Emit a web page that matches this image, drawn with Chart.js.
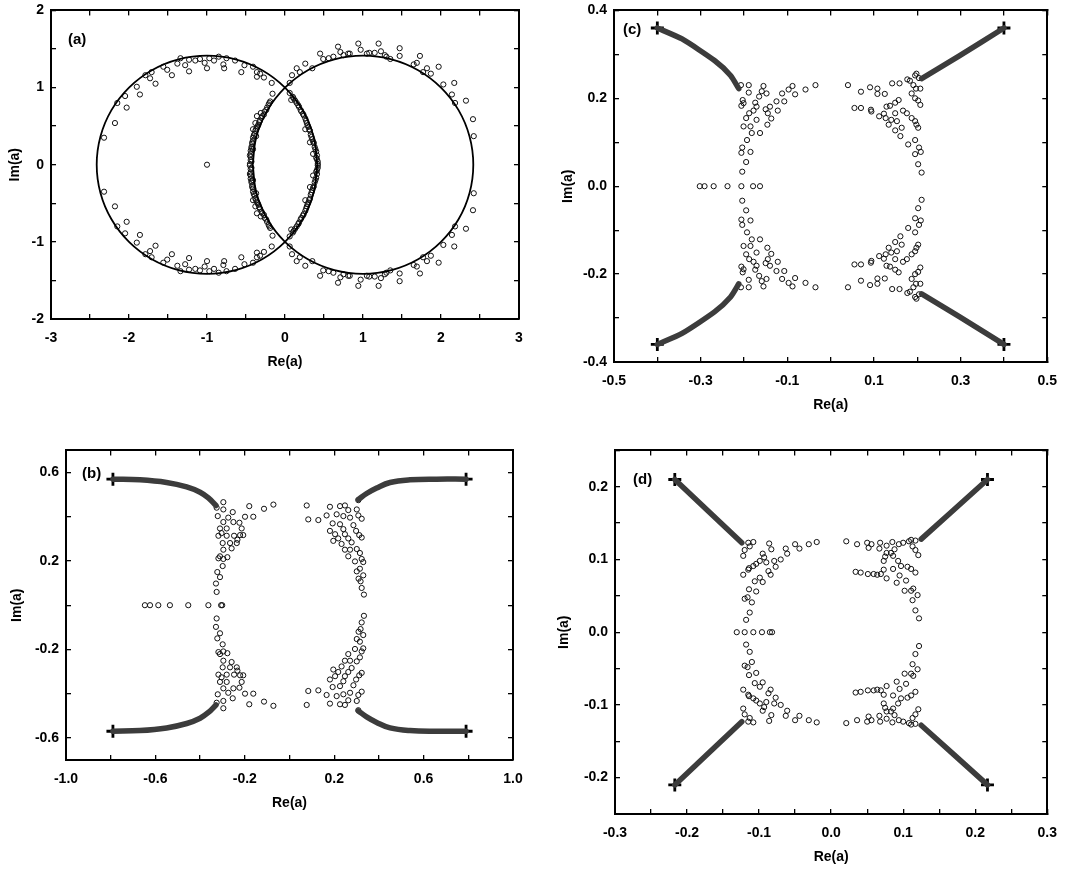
<!DOCTYPE html>
<html>
<head>
<meta charset="utf-8">
<script src="https://cdn.jsdelivr.net/npm/chart.js@4.4.1/dist/chart.umd.min.js"></script>
<style>
body{margin:0;background:#fff;width:1073px;height:873px;overflow:hidden;position:relative}
canvas{position:absolute}
</style>
</head>
<body>
<canvas id="pa" width="540" height="385" style="left:0;top:-10px"></canvas>
<canvas id="pb" width="540" height="386" style="left:0;top:430px"></canvas>
<canvas id="pc" width="533" height="428" style="left:540px;top:-10px"></canvas>
<canvas id="pd" width="533" height="440" style="left:540px;top:430px"></canvas>
<script>
// ---- panel (a): two circles and roots around them
const aCircleLeft = [[0.414,0],[0.366,0.366],[0.225,0.707],[0,1],[-0.293,1.225],[-0.634,1.366],[-1,1.414],[-1.366,1.366],[-1.707,1.225],[-2,1],[-2.225,0.707],[-2.366,0.366],[-2.414,0],[-2.366,-0.366],[-2.225,-0.707],[-2,-1],[-1.707,-1.225],[-1.366,-1.366],[-1,-1.414],[-0.634,-1.366],[-0.293,-1.225],[0,-1],[0.225,-0.707],[0.366,-0.366],[0.414,0]];
const aCircleRight = [[-0.414,0],[-0.366,0.366],[-0.225,0.707],[0,1],[0.293,1.225],[0.634,1.366],[1,1.414],[1.366,1.366],[1.707,1.225],[2,1],[2.225,0.707],[2.366,0.366],[2.414,0],[2.366,-0.366],[2.225,-0.707],[2,-1],[1.707,-1.225],[1.366,-1.366],[1,-1.414],[0.634,-1.366],[0.293,-1.225],[0,-1],[-0.225,-0.707],[-0.366,-0.366],[-0.414,0]];
const aRootsUpper = [[-1.34,1.38],[-1.23,1.36],[-1.15,1.35],[-1.09,1.37],[-0.97,1.38],[-0.91,1.35],[-0.85,1.40],[-0.75,1.38],[-0.64,1.35],
  [-1.38,1.31],[-1.28,1.29],[-1.03,1.32],[-0.79,1.30],[-0.52,1.29],[-1.56,1.27],[-1.51,1.23],[-1.71,1.20],[-1.79,1.16],
  [-1.73,1.12],[-1.45,1.16],[-1.23,1.21],[-1.00,1.25],[-0.78,1.25],[-0.56,1.20],[-0.41,1.27],[-0.36,1.20],[-0.32,1.18],
  [-0.36,1.14],[-0.27,1.13],[-0.17,1.06],[-1.66,1.05],[-1.90,1.01],[-2.05,0.89],[-1.86,0.91],[-2.15,0.80],[-2.03,0.74],
  [-2.18,0.54],[-2.32,0.35],[-0.16,0.92],[-0.19,0.82],
  [-0.21,0.78],[-0.24,0.71],[-0.27,0.65],[-0.30,0.61],[-0.32,0.57],[-0.34,0.52],[-0.36,0.48],[-0.38,0.44],[-0.39,0.40],
  [-0.41,0.35],[-0.41,0.31],[-0.42,0.27],[-0.43,0.23],[-0.44,0.18],[-0.44,0.14],[-0.44,0.10],[-0.44,0.06],[-0.45,0.01],
  [-0.38,0.54],[-0.36,0.63],[-0.31,0.67],[-0.41,0.46],[-0.37,0.37],[-0.41,0.20],
  [-0.20,0.80],[-0.23,0.74],[-0.26,0.69],[-0.29,0.63],[-0.33,0.55],[-0.35,0.50],[-0.37,0.46],[-0.40,0.38],[-0.42,0.29],
  [-0.43,0.21],[-0.45,0.12],[-0.43,0.04],
  [0.06,0.93],[0.11,0.86],[0.15,0.80],[0.18,0.75],[0.21,0.69],[0.24,0.64],[0.26,0.60],[0.28,0.54],[0.30,0.49],
  [0.32,0.44],[0.33,0.39],[0.35,0.33],[0.37,0.28],[0.38,0.23],[0.40,0.17],[0.41,0.12],[0.41,0.07],[0.42,0.01],
  [0.08,0.84],[0.26,0.46],[0.32,0.29],[0.36,0.14],
  [0.10,0.88],[0.13,0.83],[0.17,0.77],[0.20,0.71],[0.23,0.66],[0.27,0.57],[0.29,0.51],[0.31,0.46],[0.34,0.36],
  [0.36,0.30],[0.39,0.20],[0.40,0.09],[0.42,0.04],
  [0.09,1.16],[0.19,1.20],[0.26,1.31],[0.35,1.25],[0.45,1.44],[0.56,1.38],[0.68,1.53],[0.71,1.46],[0.83,1.44],
  [0.94,1.57],[0.97,1.49],[1.08,1.45],[1.20,1.57],[1.23,1.47],[1.28,1.42],[1.35,1.37],[1.47,1.51],[1.47,1.41],
  [1.65,1.30],[1.69,1.32],[1.73,1.41],[1.77,1.20],[1.87,1.18],[1.97,1.27],[2.03,1.04],[2.17,1.06],[2.14,0.91],
  [2.18,0.80],[2.32,0.83],[2.41,0.59],[2.42,0.37],[0.06,1.06],[0.15,1.25],[0.49,1.37],[0.62,1.40],[0.75,1.42],
  [0.81,1.44],[1.05,1.44],[1.15,1.45],[1.30,1.40],[1.82,1.25],[-1,0]];
const aRootsLower = [[-1.34,-1.38],[-1.23,-1.36],[-1.15,-1.35],[-1.09,-1.37],[-0.97,-1.38],[-0.91,-1.35],[-0.85,-1.40],[-0.75,-1.38],[-0.64,-1.35],
  [-1.38,-1.31],[-1.28,-1.29],[-1.03,-1.32],[-0.79,-1.30],[-0.52,-1.29],[-1.56,-1.27],[-1.51,-1.23],[-1.71,-1.20],[-1.79,-1.16],
  [-1.73,-1.12],[-1.45,-1.16],[-1.23,-1.21],[-1.00,-1.25],[-0.78,-1.25],[-0.56,-1.20],[-0.41,-1.27],[-0.36,-1.20],[-0.32,-1.18],
  [-0.36,-1.14],[-0.27,-1.13],[-0.17,-1.06],[-1.66,-1.05],[-1.90,-1.01],[-2.05,-0.89],[-1.86,-0.91],[-2.15,-0.80],[-2.03,-0.74],
  [-2.18,-0.54],[-2.32,-0.35],[-0.16,-0.92],[-0.19,-0.82],
  [-0.21,-0.78],[-0.24,-0.71],[-0.27,-0.65],[-0.30,-0.61],[-0.32,-0.57],[-0.34,-0.52],[-0.36,-0.48],[-0.38,-0.44],[-0.39,-0.40],
  [-0.41,-0.35],[-0.41,-0.31],[-0.42,-0.27],[-0.43,-0.23],[-0.44,-0.18],[-0.44,-0.14],[-0.44,-0.10],[-0.44,-0.06],[-0.45,-0.01],
  [-0.38,-0.54],[-0.36,-0.63],[-0.31,-0.67],[-0.41,-0.46],[-0.37,-0.37],[-0.41,-0.20],
  [-0.20,-0.80],[-0.23,-0.74],[-0.26,-0.69],[-0.29,-0.63],[-0.33,-0.55],[-0.35,-0.50],[-0.37,-0.46],[-0.40,-0.38],[-0.42,-0.29],
  [-0.43,-0.21],[-0.45,-0.12],[-0.43,-0.04],
  [0.06,-0.93],[0.11,-0.86],[0.15,-0.80],[0.18,-0.75],[0.21,-0.69],[0.24,-0.64],[0.26,-0.60],[0.28,-0.54],[0.30,-0.49],
  [0.32,-0.44],[0.33,-0.39],[0.35,-0.33],[0.37,-0.28],[0.38,-0.23],[0.40,-0.17],[0.41,-0.12],[0.41,-0.07],[0.42,-0.01],
  [0.08,-0.84],[0.26,-0.46],[0.32,-0.29],[0.36,-0.14],
  [0.10,-0.88],[0.13,-0.83],[0.17,-0.77],[0.20,-0.71],[0.23,-0.66],[0.27,-0.57],[0.29,-0.51],[0.31,-0.46],[0.34,-0.36],
  [0.36,-0.30],[0.39,-0.20],[0.40,-0.09],[0.42,-0.04],
  [0.09,-1.16],[0.19,-1.20],[0.26,-1.31],[0.35,-1.25],[0.45,-1.44],[0.56,-1.38],[0.68,-1.53],[0.71,-1.46],[0.83,-1.44],
  [0.94,-1.57],[0.97,-1.49],[1.08,-1.45],[1.20,-1.57],[1.23,-1.47],[1.28,-1.42],[1.35,-1.37],[1.47,-1.51],[1.47,-1.41],
  [1.65,-1.30],[1.69,-1.32],[1.73,-1.41],[1.77,-1.20],[1.87,-1.18],[1.97,-1.27],[2.03,-1.04],[2.17,-1.06],[2.14,-0.91],
  [2.18,-0.80],[2.32,-0.83],[2.41,-0.59],[2.42,-0.37],[0.06,-1.06],[0.15,-1.25],[0.49,-1.37],[0.62,-1.40],[0.75,-1.42],
  [0.81,-1.44],[1.05,-1.44],[1.15,-1.45],[1.30,-1.40],[1.82,-1.25]];
const aXTicks = [-3,-2.5,-2,-1.5,-1,-0.5,0,0.5,1,1.5,2,2.5,3];
const aXLabels = [-3,-2,-1,0,1,2,3];
const aYTicks = [-2,-1.5,-1,-0.5,0,0.5,1,1.5,2];
const aYLabels = [-2,-1,0,1,2];

// ---- panel (b)
const bTrails = [
  [[-0.79,0.57],[-0.669,0.567],[-0.55,0.555],[-0.46,0.535],[-0.40,0.511],[-0.363,0.485],[-0.329,0.451]],
  [[0.79,0.57],[0.658,0.57],[0.539,0.567],[0.45,0.555],[0.39,0.53],[0.345,0.505],[0.308,0.478]],
  [[-0.79,-0.57],[-0.669,-0.567],[-0.55,-0.555],[-0.46,-0.535],[-0.40,-0.511],[-0.363,-0.485],[-0.329,-0.451]],
  [[0.79,-0.57],[0.658,-0.57],[0.539,-0.567],[0.45,-0.555],[0.39,-0.53],[0.345,-0.505],[0.308,-0.478]]
];
const bCrosses = [[-0.79,0.57],[0.79,0.57],[-0.79,-0.57],[0.79,-0.57]];
const bRootsUpper = [[-0.296,0.466],[-0.326,0.441],[-0.296,0.433],[-0.254,0.421],[-0.321,0.403],[-0.296,0.376],[-0.274,0.396],
  [-0.251,0.376],[-0.224,0.373],[-0.199,0.400],[-0.180,0.448],[-0.162,0.400],[-0.114,0.436],[-0.072,0.455],[-0.311,0.347],
  [-0.304,0.326],[-0.281,0.347],[-0.318,0.314],[-0.281,0.314],[-0.248,0.314],[-0.214,0.347],[-0.207,0.317],[-0.233,0.296],
  [-0.299,0.281],[-0.266,0.281],[-0.236,0.281],[-0.296,0.251],[-0.259,0.257],[-0.311,0.221],[-0.296,0.209],[-0.278,0.217],
  [-0.318,0.212],[-0.299,0.177],[-0.323,0.150],[-0.311,0.127],[-0.329,0.098],[-0.326,0.060],[-0.221,0.317],
  [0.077,0.451],[0.084,0.388],[0.129,0.385],[0.181,0.445],[0.226,0.448],[0.248,0.451],[0.263,0.430],[0.211,0.411],
  [0.166,0.406],[0.241,0.403],[0.271,0.396],[0.301,0.433],[0.308,0.475],[0.308,0.406],[0.323,0.391],[0.193,0.370],
  [0.226,0.366],[0.241,0.344],[0.286,0.362],[0.181,0.336],[0.204,0.321],[0.218,0.302],[0.248,0.321],[0.263,0.302],
  [0.298,0.336],[0.312,0.317],[0.323,0.306],[0.196,0.291],[0.233,0.277],[0.248,0.251],[0.278,0.284],[0.271,0.251],
  [0.301,0.254],[0.315,0.236],[0.263,0.221],[0.293,0.198],[0.323,0.209],[0.301,0.153],[0.315,0.165],[0.330,0.135],
  [0.309,0.120],[0.318,0.108],[0.323,0.078],[0.333,0.048],[0.330,0.195]];
const bRootsReal = [[-0.647,0],[-0.624,0],[-0.587,0],[-0.535,0],[-0.453,0],[-0.363,0],[-0.306,0],[-0.301,0]];
const bRootsLower = [[-0.296,-0.466],[-0.326,-0.441],[-0.296,-0.433],[-0.254,-0.421],[-0.321,-0.403],[-0.296,-0.376],[-0.274,-0.396],
  [-0.251,-0.376],[-0.224,-0.373],[-0.199,-0.400],[-0.180,-0.448],[-0.162,-0.400],[-0.114,-0.436],[-0.072,-0.455],[-0.311,-0.347],
  [-0.304,-0.326],[-0.281,-0.347],[-0.318,-0.314],[-0.281,-0.314],[-0.248,-0.314],[-0.214,-0.347],[-0.207,-0.317],[-0.233,-0.296],
  [-0.299,-0.281],[-0.266,-0.281],[-0.236,-0.281],[-0.296,-0.251],[-0.259,-0.257],[-0.311,-0.221],[-0.296,-0.209],[-0.278,-0.217],
  [-0.318,-0.212],[-0.299,-0.177],[-0.323,-0.150],[-0.311,-0.127],[-0.329,-0.098],[-0.326,-0.060],[-0.221,-0.317],
  [0.077,-0.451],[0.084,-0.388],[0.129,-0.385],[0.181,-0.445],[0.226,-0.448],[0.248,-0.451],[0.263,-0.430],[0.211,-0.411],
  [0.166,-0.406],[0.241,-0.403],[0.271,-0.396],[0.301,-0.433],[0.308,-0.475],[0.308,-0.406],[0.323,-0.391],[0.193,-0.370],
  [0.226,-0.366],[0.241,-0.344],[0.286,-0.362],[0.181,-0.336],[0.204,-0.321],[0.218,-0.302],[0.248,-0.321],[0.263,-0.302],
  [0.298,-0.336],[0.312,-0.317],[0.323,-0.306],[0.196,-0.291],[0.233,-0.277],[0.248,-0.251],[0.278,-0.284],[0.271,-0.251],
  [0.301,-0.254],[0.315,-0.236],[0.263,-0.221],[0.293,-0.198],[0.323,-0.209],[0.301,-0.153],[0.315,-0.165],[0.330,-0.135],
  [0.309,-0.120],[0.318,-0.108],[0.323,-0.078],[0.333,-0.048],[0.330,-0.195]];
const bXTicks = [-1,-0.8,-0.6,-0.4,-0.2,0,0.2,0.4,0.6,0.8,1];
const bXLabels = [-1,-0.6,-0.2,0.2,0.6,1];
const bYTicks = [-0.6,-0.4,-0.2,0,0.2,0.4,0.6];
const bYLabels = [-0.6,-0.2,0.2,0.6];

// ---- panel (c)
const cTrails = [
  [[-0.4,0.36],[-0.343,0.335],[-0.268,0.286],[-0.231,0.252],[-0.212,0.222]],
  [[0.4,0.36],[0.296,0.296],[0.21,0.245]],
  [[-0.4,-0.36],[-0.343,-0.335],[-0.268,-0.286],[-0.231,-0.252],[-0.212,-0.222]],
  [[0.4,-0.36],[0.296,-0.296],[0.21,-0.245]]
];
const cCrosses = [[-0.4,0.36],[0.4,0.36],[-0.4,-0.36],[0.4,-0.36]];
const cRootsUpper = [[-0.207,0.230],[-0.189,0.230],[-0.189,0.213],[-0.203,0.196],[-0.201,0.189],[-0.206,0.183],[-0.155,0.228],
  [-0.148,0.211],[-0.159,0.216],[-0.165,0.204],[-0.174,0.190],[-0.171,0.181],[-0.178,0.172],[-0.188,0.166],[-0.195,0.155],
  [-0.201,0.136],[-0.185,0.136],[-0.182,0.121],[-0.193,0.105],[-0.204,0.088],[-0.206,0.076],[-0.185,0.078],[-0.195,0.055],
  [-0.204,0.033],[-0.171,0.151],[-0.163,0.121],[-0.150,0.175],[-0.140,0.181],[-0.145,0.166],[-0.137,0.154],[-0.146,0.140],
  [-0.122,0.172],[-0.125,0.193],[-0.112,0.211],[-0.107,0.193],[-0.097,0.220],[-0.088,0.228],[-0.082,0.209],[-0.058,0.220],
  [-0.035,0.230],
  [0.040,0.230],[0.070,0.215],[0.091,0.225],[0.108,0.222],[0.108,0.210],[0.125,0.210],[0.142,0.234],[0.159,0.234],
  [0.177,0.243],[0.183,0.240],[0.195,0.252],[0.198,0.256],[0.207,0.222],[0.197,0.222],[0.187,0.211],[0.195,0.200],
  [0.202,0.195],[0.207,0.185],[0.055,0.178],[0.070,0.178],[0.093,0.174],[0.094,0.170],[0.112,0.159],[0.127,0.155],
  [0.129,0.181],[0.123,0.165],[0.134,0.140],[0.140,0.151],[0.149,0.190],[0.157,0.196],[0.149,0.166],[0.167,0.172],
  [0.176,0.166],[0.187,0.155],[0.195,0.148],[0.202,0.133],[0.198,0.140],[0.153,0.148],[0.164,0.133],[0.149,0.127],
  [0.161,0.114],[0.179,0.095],[0.195,0.105],[0.195,0.073],[0.204,0.088],[0.208,0.078],[0.202,0.050],[0.210,0.031],
  [0.137,0.183],[0.191,0.230],[0.204,0.246]];
const cRootsReal = [[-0.302,0],[-0.291,0],[-0.270,0],[-0.238,0],[-0.206,0],[-0.179,0],[-0.163,0]];
const cRootsLower = [[-0.207,-0.230],[-0.189,-0.230],[-0.189,-0.213],[-0.203,-0.196],[-0.201,-0.189],[-0.206,-0.183],[-0.155,-0.228],
  [-0.148,-0.211],[-0.159,-0.216],[-0.165,-0.204],[-0.174,-0.190],[-0.171,-0.181],[-0.178,-0.172],[-0.188,-0.166],[-0.195,-0.155],
  [-0.201,-0.136],[-0.185,-0.136],[-0.182,-0.121],[-0.193,-0.105],[-0.204,-0.088],[-0.206,-0.076],[-0.185,-0.078],[-0.195,-0.055],
  [-0.204,-0.033],[-0.171,-0.151],[-0.163,-0.121],[-0.150,-0.175],[-0.140,-0.181],[-0.145,-0.166],[-0.137,-0.154],[-0.146,-0.140],
  [-0.122,-0.172],[-0.125,-0.193],[-0.112,-0.211],[-0.107,-0.193],[-0.097,-0.220],[-0.088,-0.228],[-0.082,-0.209],[-0.058,-0.220],
  [-0.035,-0.230],
  [0.040,-0.230],[0.070,-0.215],[0.091,-0.225],[0.108,-0.222],[0.108,-0.210],[0.125,-0.210],[0.142,-0.234],[0.159,-0.234],
  [0.177,-0.243],[0.183,-0.240],[0.195,-0.252],[0.198,-0.256],[0.207,-0.222],[0.197,-0.222],[0.187,-0.211],[0.195,-0.200],
  [0.202,-0.195],[0.207,-0.185],[0.055,-0.178],[0.070,-0.178],[0.093,-0.174],[0.094,-0.170],[0.112,-0.159],[0.127,-0.155],
  [0.129,-0.181],[0.123,-0.165],[0.134,-0.140],[0.140,-0.151],[0.149,-0.190],[0.157,-0.196],[0.149,-0.166],[0.167,-0.172],
  [0.176,-0.166],[0.187,-0.155],[0.195,-0.148],[0.202,-0.133],[0.198,-0.140],[0.153,-0.148],[0.164,-0.133],[0.149,-0.127],
  [0.161,-0.114],[0.179,-0.095],[0.195,-0.105],[0.195,-0.073],[0.204,-0.088],[0.208,-0.078],[0.202,-0.050],[0.210,-0.031],
  [0.137,-0.183],[0.191,-0.230],[0.204,-0.246]];
const cXTicks = [-0.5,-0.4,-0.3,-0.2,-0.1,0,0.1,0.2,0.3,0.4,0.5];
const cXLabels = [-0.5,-0.3,-0.1,0.1,0.3,0.5];
const cYTicks = [-0.4,-0.3,-0.2,-0.1,0,0.1,0.2,0.3,0.4];
const cYLabels = [-0.4,-0.2,0,0.2,0.4];

// ---- panel (d)
const dTrails = [
  [[-0.217,0.21],[-0.17,0.166],[-0.124,0.123]],
  [[0.217,0.21],[0.17,0.168],[0.125,0.128]],
  [[-0.217,-0.21],[-0.17,-0.166],[-0.124,-0.123]],
  [[0.217,-0.21],[0.17,-0.168],[0.125,-0.128]]
];
const dCrosses = [[-0.217,0.21],[0.217,0.21],[-0.217,-0.21],[0.217,-0.21]];
const dRootsUpper = [[-0.115,0.123],[-0.108,0.124],[-0.113,0.118],[-0.120,0.113],[-0.122,0.105],[-0.114,0.088],[-0.108,0.091],
  [-0.099,0.098],[-0.093,0.103],[-0.086,0.122],[-0.083,0.114],[-0.095,0.108],[-0.122,0.079],[-0.115,0.086],[-0.104,0.094],
  [-0.090,0.096],[-0.079,0.098],[-0.077,0.090],[-0.070,0.100],[-0.061,0.108],[-0.050,0.121],[-0.044,0.115],[-0.031,0.121],
  [-0.020,0.124],[-0.063,0.115],[-0.087,0.084],[-0.099,0.075],[-0.106,0.070],[-0.095,0.069],[-0.084,0.079],[-0.114,0.059],
  [-0.120,0.046],[-0.116,0.048],[-0.104,0.056],[-0.110,0.041],[-0.113,0.027],[-0.118,0.017],
  [0.021,0.125],[0.036,0.121],[0.050,0.123],[0.052,0.116],[0.056,0.121],[0.068,0.123],[0.067,0.115],[0.077,0.119],
  [0.085,0.124],[0.088,0.114],[0.094,0.121],[0.100,0.123],[0.108,0.125],[0.111,0.127],[0.117,0.126],[0.113,0.118],
  [0.117,0.113],[0.121,0.106],[0.077,0.109],[0.075,0.104],[0.073,0.098],[0.083,0.109],[0.086,0.105],[0.093,0.098],
  [0.097,0.091],[0.106,0.090],[0.111,0.087],[0.117,0.082],[0.034,0.083],[0.041,0.082],[0.051,0.080],[0.059,0.080],
  [0.064,0.079],[0.069,0.080],[0.073,0.086],[0.077,0.074],[0.086,0.087],[0.091,0.068],[0.095,0.078],[0.104,0.071],
  [0.111,0.057],[0.114,0.060],[0.113,0.044],[0.120,0.051],[0.117,0.030],[0.122,0.019],[0.102,0.057]];
const dRootsReal = [[-0.131,0],[-0.120,0],[-0.108,0],[-0.096,0],[-0.085,0],[-0.082,0]];
const dRootsLower = [[-0.115,-0.123],[-0.108,-0.124],[-0.113,-0.118],[-0.120,-0.113],[-0.122,-0.105],[-0.114,-0.088],[-0.108,-0.091],
  [-0.099,-0.098],[-0.093,-0.103],[-0.086,-0.122],[-0.083,-0.114],[-0.095,-0.108],[-0.122,-0.079],[-0.115,-0.086],[-0.104,-0.094],
  [-0.090,-0.096],[-0.079,-0.098],[-0.077,-0.090],[-0.070,-0.100],[-0.061,-0.108],[-0.050,-0.121],[-0.044,-0.115],[-0.031,-0.121],
  [-0.020,-0.124],[-0.063,-0.115],[-0.087,-0.084],[-0.099,-0.075],[-0.106,-0.070],[-0.095,-0.069],[-0.084,-0.079],[-0.114,-0.059],
  [-0.120,-0.046],[-0.116,-0.048],[-0.104,-0.056],[-0.110,-0.041],[-0.113,-0.027],[-0.118,-0.017],
  [0.021,-0.125],[0.036,-0.121],[0.050,-0.123],[0.052,-0.116],[0.056,-0.121],[0.068,-0.123],[0.067,-0.115],[0.077,-0.119],
  [0.085,-0.124],[0.088,-0.114],[0.094,-0.121],[0.100,-0.123],[0.108,-0.125],[0.111,-0.127],[0.117,-0.126],[0.113,-0.118],
  [0.117,-0.113],[0.121,-0.106],[0.077,-0.109],[0.075,-0.104],[0.073,-0.098],[0.083,-0.109],[0.086,-0.105],[0.093,-0.098],
  [0.097,-0.091],[0.106,-0.090],[0.111,-0.087],[0.117,-0.082],[0.034,-0.083],[0.041,-0.082],[0.051,-0.080],[0.059,-0.080],
  [0.064,-0.079],[0.069,-0.080],[0.073,-0.086],[0.077,-0.074],[0.086,-0.087],[0.091,-0.068],[0.095,-0.078],[0.104,-0.071],
  [0.111,-0.057],[0.114,-0.060],[0.113,-0.044],[0.120,-0.051],[0.117,-0.030],[0.122,-0.019],[0.102,-0.057]];
const dXTicks = [-0.3,-0.25,-0.2,-0.15,-0.1,-0.05,0,0.05,0.1,0.15,0.2,0.25,0.3];
const dXLabels = [-0.3,-0.2,-0.1,0,0.1,0.2,0.3];
const dYTicks = [-0.25,-0.2,-0.15,-0.1,-0.05,0,0.05,0.1,0.15,0.2,0.25];
const dYLabels = [-0.2,-0.1,0,0.1,0.2];

const FONT = {family: "'Liberation Sans', Arial, Helvetica, sans-serif", size: 14, weight: 'bold'};

const toXY = arr => arr.map(p => ({x: p[0], y: p[1]}));

// panel tag "(a)" etc, placed from the chart area corner
const panelTag = {
  id: 'panelTag',
  afterDraw(chart, args, opts) {
    const ctx = chart.ctx, ca = chart.chartArea;
    ctx.save();
    ctx.font = "bold 15px 'Liberation Sans', Arial, sans-serif";
    ctx.fillStyle = '#000';
    ctx.textBaseline = 'middle';
    ctx.fillText(opts.text, ca.left + opts.dx, ca.top + opts.dy);
    ctx.restore();
  }
};

function rootsSet(pts) {
  return {data: toXY(pts), pointStyle: 'circle', pointRadius: 2.6, borderWidth: 1,
    borderColor: '#111', backgroundColor: 'rgba(0,0,0,0)', showLine: false};
}

function trailSets(trails, tension) {
  const out = [];
  trails.forEach(t => {
    out.push({data: toXY(t), showLine: true, pointRadius: 0, borderColor: '#3c3c3c', borderWidth: 5.5, tension, borderCapStyle: 'round'});
    out.push({data: toXY(t), showLine: true, pointRadius: 0, borderColor: 'rgba(255,255,255,0.6)', borderWidth: 1.6, borderDash: [1.2, 1.8], tension});
  });
  return out;
}

function crossSet(pts) {
  return {data: toXY(pts), pointStyle: 'cross', pointRadius: 6.5, borderWidth: 2.8, borderColor: '#000', showLine: false};
}

function scalesFor(p) {
  const lab = list => v => list.some(l => Math.abs(l - v) < 1e-9) ? p.fmt(v) : '';
  const setTicks = vals => s => { s.ticks = vals.map(v => ({value: v})); };
  const grid = {drawOnChartArea: false, tickLength: -5, color: '#000', lineWidth: 1.3};
  const border = {color: '#000', width: 2};
  return {
    x: {type: 'linear', position: 'bottom', min: p.xr[0], max: p.xr[1],
      afterBuildTicks: setTicks(p.xTicks), afterFit: s => { s.height = 56; },
      grid, border,
      ticks: {autoSkip: false, maxRotation: 0, padding: 16, color: '#000', font: FONT, callback: lab(p.xLabels)},
      title: {display: true, text: 'Re(a)', color: '#000', font: FONT, padding: {top: 0, bottom: 4}}},
    y: {type: 'linear', position: 'left', min: p.yr[0], max: p.yr[1],
      afterBuildTicks: setTicks(p.yTicks), afterFit: s => { s.width = p.yW; },
      grid, border,
      ticks: {autoSkip: false, padding: 12, color: '#000', font: FONT, callback: lab(p.yLabels)},
      title: {display: true, text: 'Im(a)', color: '#000', font: FONT, padding: {top: p.titlePad, bottom: 0}}},
    x2: {type: 'linear', position: 'top', min: p.xr[0], max: p.xr[1],
      afterBuildTicks: setTicks(p.xTicks), afterFit: s => { s.height = 0; },
      grid, border, ticks: {display: false}},
    y2: {type: 'linear', position: 'right', min: p.yr[0], max: p.yr[1],
      afterBuildTicks: setTicks(p.yTicks), afterFit: s => { s.width = 0; },
      grid, border, ticks: {display: false}}
  };
}

function makePanel(id, p, datasets) {
  datasets.forEach(d => { d.xAxisID = 'x'; d.yAxisID = 'y'; });
  new Chart(document.getElementById(id), {
    type: 'scatter',
    data: {datasets},
    options: {
      responsive: false, animation: false, events: [],
      layout: {autoPadding: false, padding: {top: p.padTop, right: p.padRight, left: 0, bottom: 0}},
      plugins: {legend: {display: false}, tooltip: {enabled: false}, panelTag: {text: p.tag, dx: p.tagDx, dy: p.tagDy}},
      scales: scalesFor(p)
    },
    plugins: [panelTag]
  });
}

const intFmt = v => String(v);
const oneDec = v => v.toFixed(1);

makePanel('pa', {xr: [-3, 3], yr: [-2, 2], xTicks: aXTicks, xLabels: aXLabels, yTicks: aYTicks, yLabels: aYLabels,
  fmt: intFmt, yW: 51, titlePad: 6.6, padTop: 16, padRight: 21, tag: '(a)', tagDx: 17, tagDy: 29}, [
  {data: toXY(aCircleLeft), showLine: true, pointRadius: 0, borderColor: '#000', borderWidth: 1.8, tension: 0.4},
  {data: toXY(aCircleRight), showLine: true, pointRadius: 0, borderColor: '#000', borderWidth: 1.8, tension: 0.4},
  rootsSet(aRootsUpper), rootsSet(aRootsLower)
]);

makePanel('pb', {xr: [-1, 1], yr: [-0.7, 0.7], xTicks: bXTicks, xLabels: bXLabels, yTicks: bYTicks, yLabels: bYLabels,
  fmt: oneDec, yW: 66, titlePad: 8.6, padTop: 17, padRight: 27, tag: '(b)', tagDx: 16, tagDy: 23}, [
  ...trailSets(bTrails, 0.4), crossSet(bCrosses),
  rootsSet(bRootsUpper), rootsSet(bRootsReal), rootsSet(bRootsLower)
]);

makePanel('pc', {xr: [-0.5, 0.5], yr: [-0.4, 0.4], xTicks: cXTicks, xLabels: cXLabels, yTicks: cYTicks, yLabels: cYLabels,
  fmt: oneDec, yW: 74, titlePad: 19.6, padTop: 16, padRight: 16, tag: '(c)', tagDx: 9, tagDy: 19}, [
  ...trailSets(cTrails, 0.2), crossSet(cCrosses),
  rootsSet(cRootsUpper), rootsSet(cRootsReal), rootsSet(cRootsLower)
]);

makePanel('pd', {xr: [-0.3, 0.3], yr: [-0.25, 0.25], xTicks: dXTicks, xLabels: dXLabels, yTicks: dYTicks, yLabels: dYLabels,
  fmt: oneDec, yW: 75, titlePad: 15.6, padTop: 16, padRight: 16, tag: '(d)', tagDx: 18, tagDy: 29}, [
  ...trailSets(dTrails, 0), crossSet(dCrosses),
  rootsSet(dRootsUpper), rootsSet(dRootsReal), rootsSet(dRootsLower)
]);
</script>
</body>
</html>
